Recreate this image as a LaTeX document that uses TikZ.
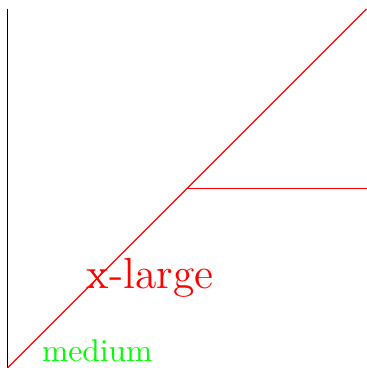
\documentclass[tikz,border=0pt]{standalone}
\usepackage{tikz}
\usetikzlibrary{positioning, calc}

\begin{document}
\begin{tikzpicture}
\tikzset{redline/.style={draw, red}, lbl/.style={inner sep=0pt}}
\useasboundingbox (-0.084,0) rectangle (4,4.1);
\coordinate (O) at (0,0); \coordinate (T) at (0,4);
\coordinate (D) at (4,4); \coordinate (M) at (2,2); \coordinate (R) at (4,2);
\draw (O) -- (T);
\draw[redline] (O) -- (D); \draw[redline] (M) -- (R);
\node[lbl, red, font=\fontsize{13.8}{16}\selectfont] (XL) at (1.59,1.0) {x-large};
\node[lbl, green] (MD) at (1.0,0.19) {medium};
\end{tikzpicture}
\end{document}
